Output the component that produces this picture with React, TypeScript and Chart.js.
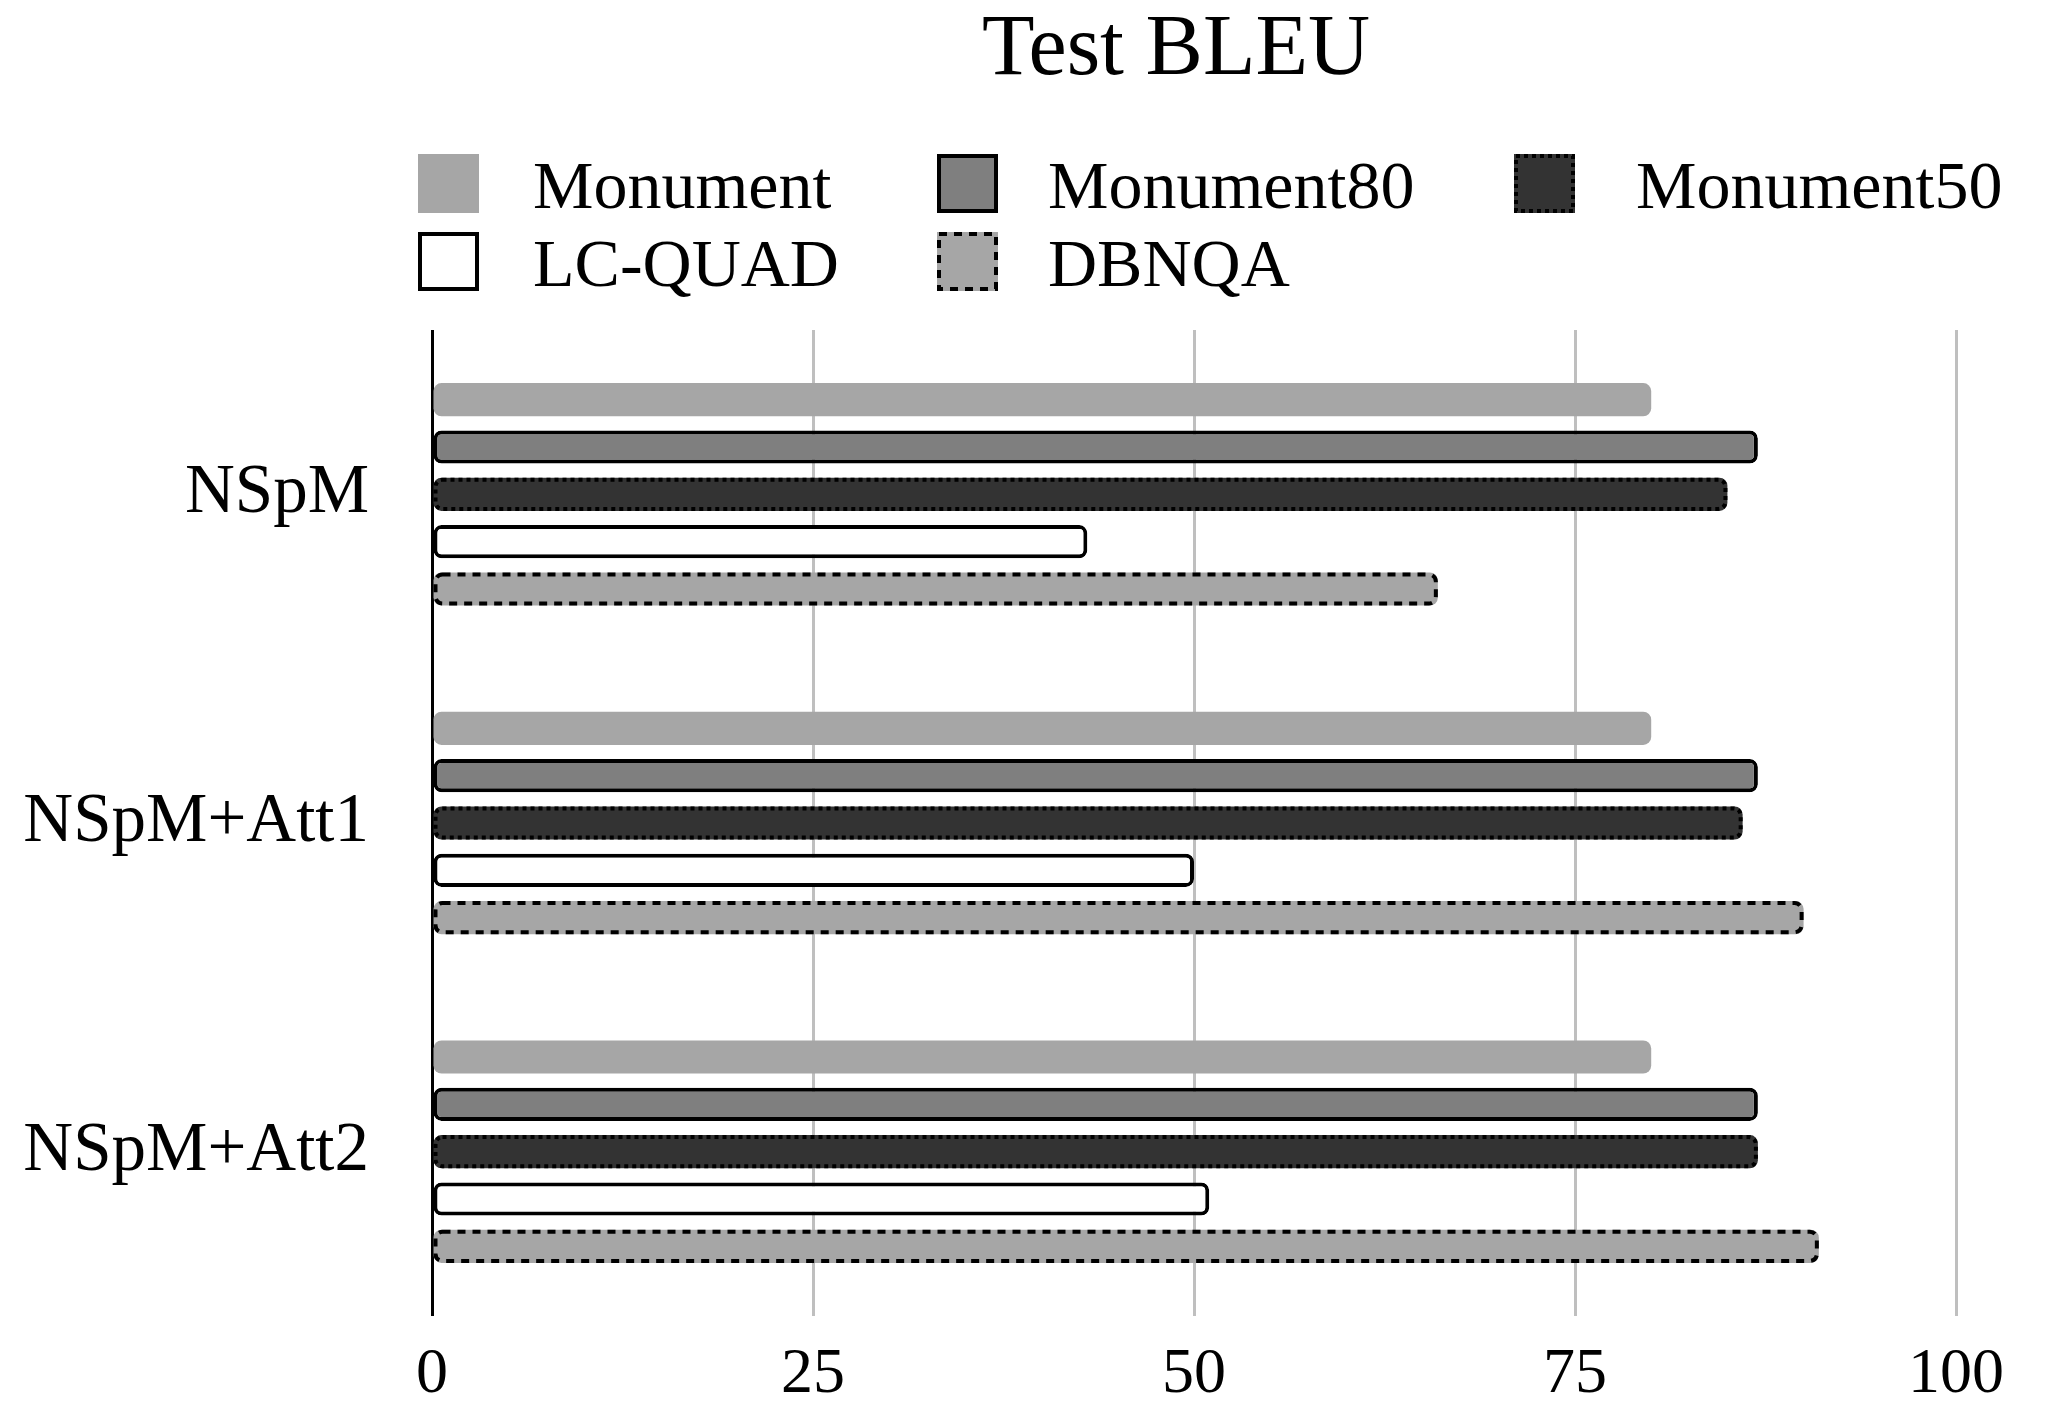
import React, { useEffect, useRef } from 'react';
import { Chart, registerables } from 'chart.js';

Chart.register(...registerables);

// --- data ---
const categories = ['NSpM', 'NSpM+Att1', 'NSpM+Att2'];
const seriesNames = ['Monument', 'Monument80', 'Monument50', 'LC-QUAD', 'DBNQA'];
const monument = [80, 80, 80];
const monument80 = [87, 87, 87];
const monument50 = [85, 86, 87];
const lcQuad = [43, 50, 51];
const dbnqa = [66, 90, 91];
const xTicks = [0, 25, 50, 75, 100];

const FONT = '"Liberation Serif", "Times New Roman", serif';
const LIGHT = '#a6a6a6';
const MID = '#7f7f7f';
const DARK = '#333333';

// bars in Chart.js can't do dashed borders, so stroke them here from the bar elements
const dashedBorders = {
  id: 'dashedBorders',
  afterDatasetsDraw(chart: any) {
    const ctx = chart.ctx;
    chart.data.datasets.forEach((ds: any, i: number) => {
      if (!ds.dash) return;
      const meta = chart.getDatasetMeta(i);
      meta.data.forEach((bar: any) => {
        const { x, y, base, height } = bar.getProps(['x', 'y', 'base', 'height'], true);
        const lw = 4;
        const left = Math.min(x, base) + lw / 2;
        const right = Math.max(x, base) - lw / 2;
        const top = y - height / 2 + lw / 2;
        const bottom = y + height / 2 - lw / 2;
        ctx.save();
        ctx.setLineDash(ds.dash);
        ctx.lineWidth = lw;
        ctx.strokeStyle = '#000';
        ctx.beginPath();
        ctx.roundRect(left, top, right - left, bottom - top, 7);
        ctx.stroke();
        ctx.restore();
      });
    });
  },
};

// title + two-row legend laid out in columns like the original figure
const titleAndLegend = {
  id: 'titleAndLegend',
  afterDraw(chart: any) {
    const ctx = chart.ctx;
    ctx.save();
    ctx.fillStyle = '#000';
    ctx.font = `86px ${FONT}`;
    ctx.textAlign = 'center';
    ctx.textBaseline = 'alphabetic';
    ctx.fillText('Test BLEU', 1176, 74);

    const boxX = [418, 937, 1514];
    const textX = [533, 1048, 1636];
    const boxY = [154, 232];
    const baseY = [208, 286];
    ctx.font = `68px ${FONT}`;
    ctx.textAlign = 'left';
    chart.data.datasets.forEach((ds: any, i: number) => {
      const col = i % 3;
      const row = Math.floor(i / 3);
      const bx = boxX[col];
      const by = boxY[row];
      const size = 59;
      ctx.fillStyle = ds.backgroundColor;
      ctx.fillRect(bx, by, size + 2, size);
      const lw = ds.dash ? 4 : ds.borderWidth;
      if (lw > 0) {
        ctx.setLineDash(ds.dash || []);
        ctx.lineWidth = lw;
        ctx.strokeStyle = '#000';
        ctx.strokeRect(bx + lw / 2, by + lw / 2, size + 2 - lw, size - lw);
        ctx.setLineDash([]);
      }
      ctx.fillStyle = '#000';
      ctx.fillText(ds.label, textX[col], baseY[row]);
    });
    ctx.restore();
  },
};

export default function App() {
  const canvasRef = useRef<HTMLCanvasElement>(null);

  useEffect(() => {
    document.body.style.margin = '0';
    const c = canvasRef.current;
    if (!c) return;

    const common = { borderRadius: 8, borderSkipped: false, barPercentage: 0.7, categoryPercentage: 0.72 };

    const chart = new Chart(c, {
      type: 'bar',
      data: {
        labels: categories,
        datasets: [
          { label: seriesNames[0], data: monument, backgroundColor: LIGHT, borderWidth: 0, ...common },
          { label: seriesNames[1], data: monument80, backgroundColor: MID, borderColor: '#000', borderWidth: 4, ...common },
          { label: seriesNames[2], data: monument50, backgroundColor: DARK, borderWidth: 0, dash: [4, 4], ...common } as any,
          { label: seriesNames[3], data: lcQuad, backgroundColor: '#ffffff', borderColor: '#000', borderWidth: 4, ...common },
          { label: seriesNames[4], data: dbnqa, backgroundColor: LIGHT, borderWidth: 0, dash: [8, 7], ...common } as any,
        ],
      },
      options: {
        indexAxis: 'y',
        animation: false,
        responsive: false,
        devicePixelRatio: 1,
        layout: { padding: { top: 330, right: 90, left: 0, bottom: 0 } },
        plugins: {
          legend: { display: false },
          title: { display: false },
          tooltip: { enabled: false },
        },
        scales: {
          x: {
            min: 0,
            max: 100,
            afterBuildTicks: (scale: any) => {
              scale.ticks = xTicks.map((v) => ({ value: v }));
            },
            afterFit: (scale: any) => {
              scale.height = 112;
            },
            grid: {
              drawTicks: false,
              color: (ctx: any) => (ctx.tick && ctx.tick.value === 0 ? '#000' : '#bfbfbf'),
              lineWidth: 3,
            },
            border: { display: false },
            ticks: { padding: 21, color: '#000', font: { family: FONT, size: 64 } },
          },
          y: {
            afterFit: (scale: any) => {
              scale.width = 432;
            },
            grid: { display: false, drawTicks: false },
            border: { display: false },
            ticks: { padding: 63, color: '#000', font: { family: FONT, size: 69 } },
          },
        },
      },
      plugins: [dashedBorders, titleAndLegend],
    });

    return () => chart.destroy();
  }, []);

  return (
    <div style={{ width: 2046, height: 1428, background: '#fff' }}>
      <canvas ref={canvasRef} width={2046} height={1428} />
    </div>
  );
}
